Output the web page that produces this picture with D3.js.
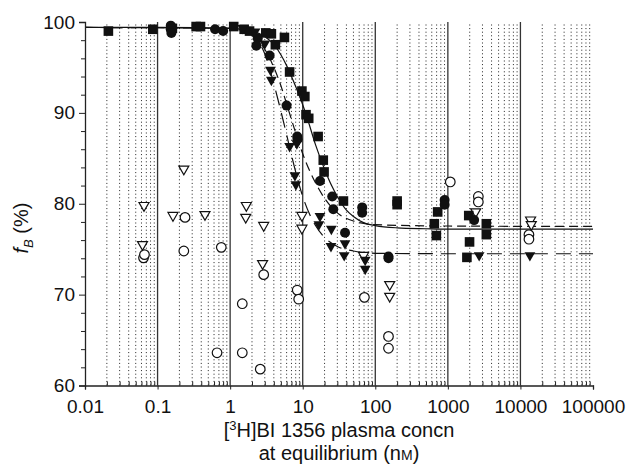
<!DOCTYPE html>
<html>
<head>
<meta charset="utf-8">
<script src="https://cdn.jsdelivr.net/npm/d3@7"></script>
<style>
  html, body { margin: 0; padding: 0; background: #fff; }
  svg text { font-family: "Liberation Sans", Arial, sans-serif; fill: #111; }
</style>
</head>
<body>
<svg id="chart" width="629" height="467"></svg>
<script>
// tick labels
const xTicks = [0.01, 0.1, 1, 10, 100, 1000, 10000, 100000];
const yTicks = [60, 70, 80, 90, 100];

// filled squares
const sqX = [0.021, 0.086, 0.16, 0.34, 0.39, 1.12, 1.56, 1.85, 3.1, 3.7, 4.2, 5.6, 6.6, 9.75, 10.7, 11.1, 12.1, 16.3, 19.2, 19.7, 36.4, 200, 200, 651, 694, 724, 1940, 1990, 1830, 3390, 3390];
const sqY = [99.0, 99.2, 99.3, 99.5, 99.5, 99.5, 99.2, 99.0, 98.8, 98.7, 97.5, 98.3, 94.5, 92.4, 91.8, 89.8, 89.4, 87.4, 84.8, 83.5, 80.3, 80.3, 79.9, 77.8, 76.5, 79.1, 78.7, 75.8, 74.1, 77.8, 76.6];

// filled circles
const ciX = [0.152, 0.152, 0.155, 0.62, 0.8, 2.4, 2.3, 3.5, 6.0, 8.4, 8.5, 17.3, 25.5, 26.4, 38.3, 66, 66, 152, 152, 903, 903, 2300];
const ciY = [99.6, 99.2, 98.8, 99.2, 99.0, 98.2, 97.4, 96.3, 90.8, 87.4, 87.1, 82.5, 80.8, 79.4, 76.8, 79.6, 79.0, 74.2, 74.0, 80.4, 79.9, 78.2];

// filled down-triangles
const trX = [1.5, 2.2, 3.0, 3.6, 3.7, 6.6, 8.3, 7.8, 8.05, 17.3, 16.7, 24.8, 24.5, 38.3, 37.3, 72.6, 72.6, 2700, 13500];
const trY = [99.2, 98.8, 97.5, 94.6, 93.5, 86.2, 86.5, 83.0, 82.0, 78.5, 77.6, 77.1, 75.2, 75.5, 74.2, 73.7, 72.7, 74.2, 74.2];

// open circles
const ocX = [0.064, 0.066, 0.239, 0.23, 0.755, 0.66, 1.47, 1.47, 2.6, 2.9, 8.4, 8.8, 70.8, 152, 152, 1080, 2630, 2630, 13100, 13100];
const ocY = [74.05, 74.4, 78.5, 74.8, 75.2, 63.6, 69.0, 63.6, 61.8, 72.2, 70.5, 69.5, 69.7, 65.4, 64.1, 82.4, 80.8, 80.2, 76.6, 76.1];

// open down-triangles
const otX = [0.065, 0.062, 0.163, 0.23, 0.45, 1.67, 1.64, 2.9, 2.8, 9.75, 9.75, 69, 158, 158, 2420, 13800, 14100];
const otY = [79.7, 75.4, 78.6, 83.7, 78.7, 79.7, 78.4, 77.5, 73.3, 78.6, 77.2, 74.2, 71.0, 69.7, 79.0, 78.1, 77.6];

// fitted curves
const fitSolidX = [0.01, 0.1, 1, 2, 3, 4, 5, 6, 7, 8, 10, 12, 15, 20, 25, 30, 40, 50, 70, 100, 200, 500, 1000, 100000];
const fitSolidY = [99.4, 99.4, 99.3, 99.0, 98.4, 97.5, 96.4, 95.2, 94.0, 92.9, 90.9, 89.0, 86.5, 83.8, 82.0, 80.8, 79.3, 78.6, 77.9, 77.6, 77.35, 77.25, 77.2, 77.2];
const fitCircX = [0.01, 1, 2, 3, 4, 5, 6, 8, 10, 15, 20, 30, 50, 100, 1000, 100000];
const fitCircY = [99.4, 99.3, 98.5, 97.0, 95.0, 93.0, 91.0, 87.8, 85.5, 82.3, 80.6, 79.0, 78.1, 77.7, 77.55, 77.5];
const fitTriX = [0.01, 1, 2, 3, 4, 5, 6, 8, 10, 15, 20, 30, 50, 100, 1000, 100000];
const fitTriY = [99.4, 99.3, 98.6, 96.5, 93.2, 90.2, 87.6, 83.5, 80.8, 77.6, 76.3, 75.3, 74.8, 74.55, 74.5, 74.5];

const svg = d3.select('#chart');

const x = d3.scaleLog()
    .domain([0.01, 100000])
    .range([85, 593]);

const y = d3.scaleLinear()
    .domain([60, 100])
    .range([385.5, 22]);

// Vertical grid: solid at decades, dotted at 2..9.
const minor = [];
xTicks.slice(0, -1).forEach((d) => {
  for (let k = 2; k <= 9; k++) minor.push(d * k);
});

svg.append('g')
    .selectAll('line')
    .data(minor)
    .enter()
    .append('line')
    .attr('x1', (d) => x(d))
    .attr('x2', (d) => x(d))
    .attr('y1', y(60))
    .attr('y2', y(100))
    .attr('stroke', '#222')
    .attr('stroke-width', 1)
    .attr('stroke-dasharray', '1,2.6');

svg.append('g')
    .selectAll('line')
    .data(xTicks.slice(1, -1))
    .enter()
    .append('line')
    .attr('x1', (d) => x(d))
    .attr('x2', (d) => x(d))
    .attr('y1', y(60))
    .attr('y2', y(100))
    .attr('stroke', '#333')
    .attr('stroke-width', 1.3);

// Fit curves.
const line = d3.line()
    .x((d) => x(d[0]))
    .y((d) => y(d[1]))
    .curve(d3.curveMonotoneX);

const curves = [
  {xs: fitSolidX, ys: fitSolidY, dash: null},
  {xs: fitCircX, ys: fitCircY, dash: '9,5'},
  {xs: fitTriX, ys: fitTriY, dash: '15,8'}
];

svg.append('g')
    .selectAll('path')
    .data(curves)
    .enter()
    .append('path')
    .attr('d', (c) => line(d3.zip(c.xs, c.ys)))
    .attr('fill', 'none')
    .attr('stroke', '#111')
    .attr('stroke-width', 1.2)
    .attr('stroke-dasharray', (c) => c.dash);

// Markers.
const tri = (s) => 'M' + (-s) + ',' + (-s * 0.8) + 'L' + s + ',' + (-s * 0.8) + 'L0,' + (s * 0.95) + 'Z';

let marks = svg.append('g');

marks.selectAll('.oc')
    .data(d3.zip(ocX, ocY))
    .enter()
    .append('circle')
    .attr('cx', (d) => x(d[0]))
    .attr('cy', (d) => y(d[1]))
    .attr('r', 4.8)
    .attr('fill', '#fff')
    .attr('stroke', '#111')
    .attr('stroke-width', 1.2);

marks.selectAll('.ot')
    .data(d3.zip(otX, otY))
    .enter()
    .append('path')
    .attr('d', tri(5))
    .attr('transform', (d) => 'translate(' + x(d[0]) + ',' + y(d[1]) + ')')
    .attr('fill', '#fff')
    .attr('stroke', '#111')
    .attr('stroke-width', 1.2);

marks.selectAll('.sq')
    .data(d3.zip(sqX, sqY))
    .enter()
    .append('rect')
    .attr('x', (d) => x(d[0]) - 4.8)
    .attr('y', (d) => y(d[1]) - 4.8)
    .attr('width', 9.6)
    .attr('height', 9.6)
    .attr('fill', '#111');

marks.selectAll('.ci')
    .data(d3.zip(ciX, ciY))
    .enter()
    .append('circle')
    .attr('cx', (d) => x(d[0]))
    .attr('cy', (d) => y(d[1]))
    .attr('r', 5)
    .attr('fill', '#111');

marks.selectAll('.tr')
    .data(d3.zip(trX, trY))
    .enter()
    .append('path')
    .attr('d', tri(5.4))
    .attr('transform', (d) => 'translate(' + x(d[0]) + ',' + y(d[1]) + ')')
    .attr('fill', '#111');

// Axes.
const fmt = (d) => (d < 1 ? String(d) : d3.format('d')(d));

let xAxis = svg.append('g')
    .attr('transform', 'translate(0,' + y(60) + ')')
    .call(d3.axisBottom(x).tickValues(xTicks).tickFormat(fmt).tickSize(4).tickPadding(10));

svg.append('g')
    .attr('transform', 'translate(0,' + y(60) + ')')
    .call(d3.axisBottom(x).tickValues(minor).tickFormat('').tickSize(-4))
    .call((g) => g.select('.domain').remove());

let yAxis = svg.append('g')
    .attr('transform', 'translate(' + x(0.01) + ',0)')
    .call(d3.axisLeft(y).tickValues(yTicks).tickSize(6).tickPadding(4));

svg.append('g')
    .attr('transform', 'translate(' + x(0.01) + ',0)')
    .call(d3.axisLeft(y).tickValues(d3.range(62, 100, 2).filter((v) => v % 10)).tickFormat('').tickSize(4))
    .call((g) => g.select('.domain').remove());

svg.selectAll('.domain').attr('stroke', '#222').attr('stroke-width', 1.3);
svg.selectAll('.tick line').attr('stroke', '#222');
xAxis.selectAll('text').style('font-size', '19px');
yAxis.selectAll('text').style('font-size', '19px');

// Axis titles.
let t1 = svg.append('text')
    .attr('x', 339)
    .attr('y', 437)
    .attr('text-anchor', 'middle')
    .style('font-size', '20px');
t1.append('tspan').text('[');
t1.append('tspan').attr('dy', -7).style('font-size', '13px').text('3');
t1.append('tspan').attr('dy', 7).text('H]BI 1356 plasma concn');

let t2 = svg.append('text')
    .attr('x', 339)
    .attr('y', 460)
    .attr('text-anchor', 'middle')
    .style('font-size', '20px');
t2.append('tspan').text('at equilibrium (n');
t2.append('tspan').style('font-size', '14px').text('M');
t2.append('tspan').text(')');

let yl = svg.append('text')
    .attr('transform', 'translate(28,' + 228 + ') rotate(-90)')
    .attr('text-anchor', 'middle')
    .style('font-size', '20px');
yl.append('tspan').style('font-style', 'italic').text('f');
yl.append('tspan').attr('dy', 5).style('font-size', '13px').style('font-style', 'italic').text('B');
yl.append('tspan').attr('dy', -5).text(' (%)');
</script>
</body>
</html>
